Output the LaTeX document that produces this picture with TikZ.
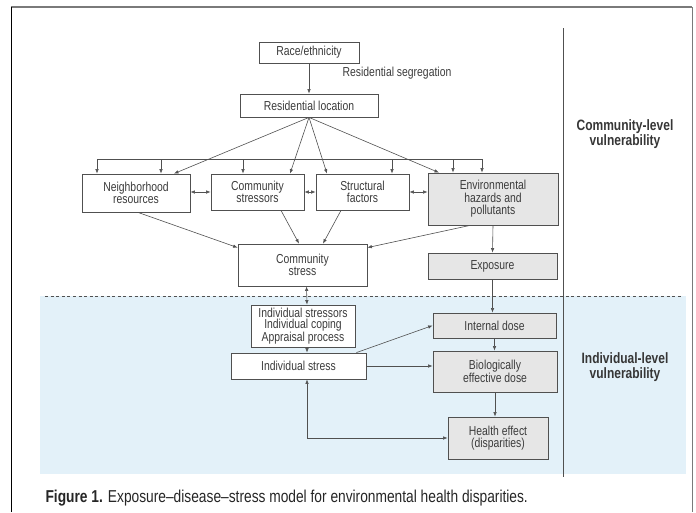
\documentclass[tikz,border=0pt]{standalone}
\usepackage{fontspec}
\setmainfont{Liberation Sans}[FakeStretch=0.8]
\usetikzlibrary{arrows.meta,positioning}
\definecolor{ink}{HTML}{3C3C3C}
\definecolor{linegray}{HTML}{505050}
\definecolor{boxgray}{HTML}{E6E6E6}
\definecolor{paleblue}{HTML}{E3F1F9}
\definecolor{framegray}{HTML}{7A7A7A}

\begin{document}
\begin{tikzpicture}[x=1pt,y=-1pt,
  font=\fontsize{13}{12.5}\selectfont, text=ink,
  box/.style={draw=linegray,line width=.8pt,fill=white,align=center,inner sep=1pt},
  graybox/.style={box,fill=boxgray},
  flow/.style={-{Latex[length=4.5pt,width=3.5pt]},draw=linegray,line width=.6pt},
  twoway/.style={{Latex[length=4.5pt,width=3.5pt]}-{Latex[length=4.5pt,width=3.5pt]},draw=linegray,line width=.6pt},
  level/.style={font=\bfseries\fontsize{15}{15}\selectfont,align=center,text=ink!90!black}
]
% picture is 696 x 512 px, one px per pt, y grows downwards
\path[use as bounding box] (0,0) rectangle (696,512);

\fill[paleblue] (40,296) rectangle (686,474);
\draw[framegray,line width=1.4pt] (11,7) -- (692,7);
\draw[black,line width=.9pt] (11,7) -- (11,512);
\draw[framegray,line width=.9pt] (692,7) -- (692,512);
\draw[linegray,line width=.6pt,dash pattern=on 3pt off 2.6pt] (45,296) -- (683,296);
\draw[linegray,line width=.8pt] (563,28) -- (563,477);

\node[level] (commlevel) at (625,134) {Community-level\\vulnerability};
\node[level] (indlevel) at (625,367) {Individual-level\\vulnerability};

\node[box,minimum width=100pt,minimum height=21pt] (race) at (309,52.5) {Race/ethnicity};
\node (segregation) at (397,73) {Residential segregation};
\node[box,minimum width=138pt,minimum height=23pt] (resloc) at (309,105.5) {Residential location};

\node[box,minimum width=108pt,minimum height=38pt] (nbhd) at (136,193) {Neighborhood\\resources};
\node[box,minimum width=93pt,minimum height=36pt] (comstr) at (257.5,192) {Community\\stressors};
\node[box,minimum width=93pt,minimum height=36pt] (struct) at (362.5,192) {Structural\\factors};
\node[graybox,minimum width=130pt,minimum height=52pt] (envhaz) at (493,199) {Environmental\\hazards and\\pollutants};

\node[box,minimum width=129pt,minimum height=42pt] (comstress) at (302.5,265) {Community\\stress};
\node[graybox,minimum width=129pt,minimum height=26pt] (exposure) at (492.5,266) {Exposure};

\node[box,minimum width=104pt,minimum height=42pt,font=\fontsize{13}{11.5}\selectfont] (indfac) at (303,326)
  {Individual stressors\\Individual coping\\Appraisal process};
\node[box,minimum width=135pt,minimum height=26pt] (indstress) at (298.5,366) {Individual stress};
\node[graybox,minimum width=123pt,minimum height=25pt] (intdose) at (494.5,325.5) {Internal dose};
\node[graybox,minimum width=124pt,minimum height=41pt] (bed) at (495,371.5) {Biologically\\effective dose};
\node[graybox,minimum width=100pt,minimum height=42pt] (health) at (498,438) {Health effect\\(disparities)};

\node[anchor=west,font=\fontsize{17.2}{18}\selectfont,text=black!85] (caption) at (42,498)
  {\textbf{Figure 1.} Exposure–disease–stress model for environmental health disparities.};

\draw[flow] (race.south) -- (resloc.north);
\draw[flow] (resloc.south) -- ([xshift=38pt]nbhd.north);
\draw[flow] (resloc.south) -- ([xshift=32.5pt]comstr.north);
\draw[flow] (resloc.south) -- ([xshift=-35.5pt]struct.north);
\draw[flow] (resloc.south) -- ([xshift=-54pt]envhaz.north);

\coordinate (busW) at (97,159);
\coordinate (busE) at (482,159);
\draw[draw=linegray,line width=.6pt] (busW) -- (busE);
\foreach \x/\target in {97/nbhd,161/nbhd,243/comstr,392/struct,453/envhaz,482/envhaz}{
  \coordinate (drop) at (\x,159);
  \draw[flow] (drop) -- (drop |- \target.north);}

\draw[twoway] (nbhd.east |- comstr.west) -- (comstr.west);
\draw[twoway] (comstr.east) -- (struct.west);
\draw[twoway] (struct.east) -- (struct.east -| envhaz.west);

\draw[flow] ([xshift=2pt]nbhd.south) -- ([yshift=-4pt]comstress.north west);
\draw[flow] ([xshift=23.5pt]comstr.south) -- ([xshift=-3.5pt]comstress.north);
\draw[flow] ([xshift=-21.5pt]struct.south) -- ([xshift=20.5pt]comstress.north);
\draw[flow] ([xshift=-23pt]envhaz.south) -- ([yshift=-4pt]comstress.north east);
\draw[flow] (envhaz.south) -- (exposure.north);
\draw[flow] (exposure.south) -- (exposure.south |- intdose.north);

\draw[twoway] ([xshift=4pt]comstress.south) -- ([xshift=4pt]indfac.north);
\draw[flow] ([xshift=4pt]indfac.south) -- ([xshift=4pt]indfac.south |- indstress.north);
\draw[flow] ([xshift=-10pt]indstress.north east) -- (intdose.west);
\draw[flow] (indstress.east) -- (indstress.east -| bed.west);
\draw[flow] (intdose.south) -- (intdose.south |- bed.north);
\draw[flow] (bed.south) -- (bed.south |- health.north);
\draw[twoway] ([xshift=8.5pt]indstress.south) |- (health.west);
\end{tikzpicture}
\end{document}
